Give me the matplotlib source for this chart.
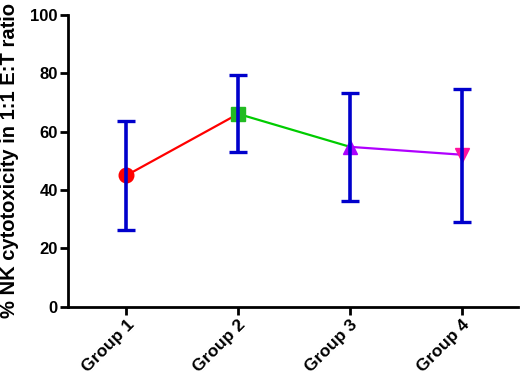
import matplotlib
matplotlib.use("Agg")
import matplotlib.pyplot as plt

groups = ["Group 1", "Group 2", "Group 3", "Group 4"]
means = [45.0, 66.1, 54.8, 52.1]
upper = [63.6, 79.4, 73.1, 74.5]
lower = [26.4, 52.9, 36.1, 29.0]
yticks = [0, 20, 40, 60, 80, 100]

seg_colors = ["#ff0000", "#00cc00", "#b000ff"]
marker_colors = ["#ff0000", "#22bb22", "#aa00ff", "#ff10a0"]
markers = ["o", "s", "^", "v"]
err_color = "#0000cc"

plt.rcParams['font.family'] = ['Liberation Sans', 'DejaVu Sans']
plt.rcParams['font.weight'] = 'bold'

fig = plt.figure(figsize=(5.2, 3.85), dpi=100)
ax = fig.add_axes([0.131, 0.2034, 0.865, 0.7576])

x = list(range(len(groups)))
for i in range(len(groups) - 1):
    ax.plot(x[i:i + 2], means[i:i + 2], color=seg_colors[i], lw=1.6, zorder=2)
for i in range(len(groups)):
    ax.plot(x[i], means[i], marker=markers[i], color=marker_colors[i],
            markersize=10.5, linestyle="none", zorder=3)
yerr = [[m - l for m, l in zip(means, lower)], [u - m for m, u in zip(means, upper)]]
ax.errorbar(x, means, yerr=yerr, fmt="none", ecolor=err_color, elinewidth=2.6,
            capsize=6.5, capthick=2.4, zorder=4)

ax.set_xlim(-0.52, 3.5)
ax.set_ylim(0, 100)
ax.set_yticks(yticks)
ax.set_yticklabels([str(t) for t in yticks], fontsize=12, fontweight='bold')
ax.set_xticks(x)
ax.set_xticklabels(groups, rotation=45, ha="right", rotation_mode="anchor",
                   fontsize=12.5, fontweight='bold')
for side in ["top", "right"]:
    ax.spines[side].set_visible(False)
for side in ["left", "bottom"]:
    ax.spines[side].set_linewidth(2)
ax.tick_params(axis="both", width=2, length=5.5, pad=2)

fig.text(10 / 520, 1 - 161 / 385, "% NK cytotoxicity in 1:1 E:T ratio",
         rotation=90, ha="center", va="center", fontsize=14.5, fontweight='bold')

fig.savefig("out.png", dpi=100)
